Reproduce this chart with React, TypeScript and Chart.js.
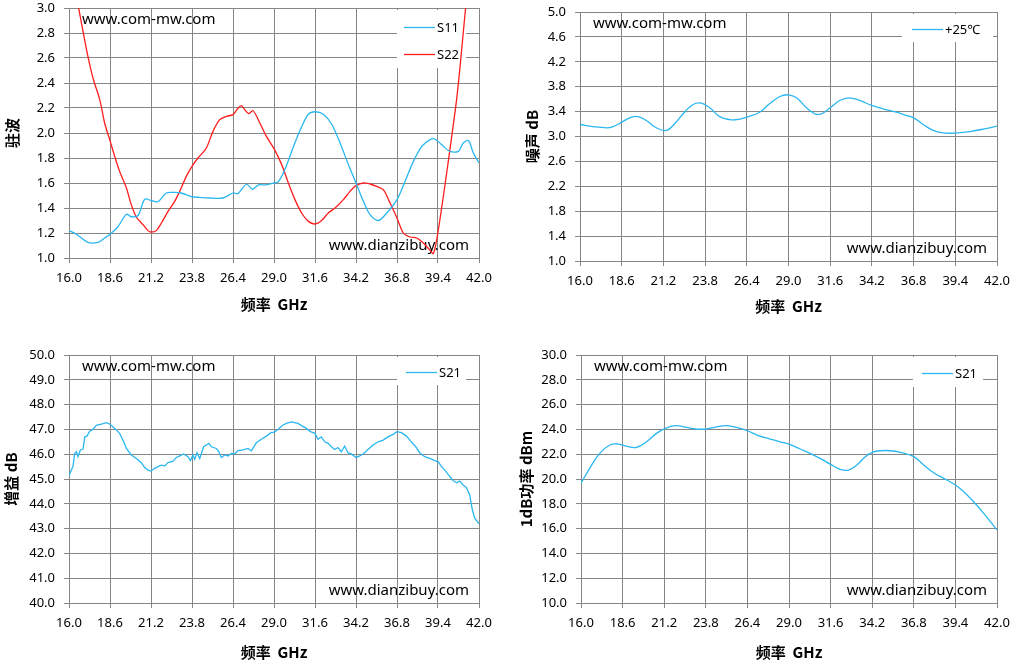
import React, { useEffect, useRef } from "react";
import { Chart, registerables } from "chart.js";

Chart.register(...registerables);

const xTicks = [16.0, 18.6, 21.2, 23.8, 26.4, 29.0, 31.6, 34.2, 36.8, 39.4, 42.0];

// 驻波 S11 / S22
const s11Freq = [16.0, 16.47, 17.2, 17.84, 18.26, 18.6, 19.1, 19.64, 19.95, 20.38, 20.8, 21.2, 21.64, 22.17, 22.7, 23.13, 23.8, 24.29, 24.9, 25.77, 26.4, 26.72, 27.25, 27.63, 28.03, 28.5, 29.0, 29.27, 29.7, 30.23, 30.75, 31.18, 31.6, 32.13, 32.66, 33.19, 33.71, 34.2, 34.67, 35.09, 35.62, 36.15, 36.8, 37.3, 37.84, 38.37, 38.9, 39.2, 39.63, 40.16, 40.69, 41.0, 41.33, 41.64, 42.0];
const s11Vswr = [1.22, 1.19, 1.125, 1.125, 1.16, 1.19, 1.25, 1.35, 1.33, 1.34, 1.47, 1.46, 1.45, 1.52, 1.525, 1.52, 1.49, 1.485, 1.48, 1.48, 1.52, 1.515, 1.59, 1.55, 1.585, 1.585, 1.6, 1.61, 1.71, 1.89, 2.05, 2.15, 2.17, 2.15, 2.07, 1.92, 1.75, 1.6, 1.453, 1.347, 1.3, 1.36, 1.467, 1.61, 1.773, 1.893, 1.947, 1.952, 1.907, 1.853, 1.853, 1.92, 1.94, 1.84, 1.76];
const s22Freq = [16.0, 16.61, 16.89, 17.2, 17.52, 17.95, 18.26, 18.58, 18.9, 19.21, 19.64, 19.95, 20.27, 20.69, 21.01, 21.2, 21.54, 21.86, 22.28, 22.7, 23.02, 23.44, 23.8, 24.18, 24.71, 25.13, 25.56, 25.98, 26.4, 26.68, 26.93, 27.14, 27.4, 27.67, 28.1, 28.52, 29.0, 29.49, 29.91, 30.33, 30.75, 31.18, 31.6, 32.02, 32.44, 32.87, 33.4, 33.82, 34.2, 34.67, 35.09, 35.51, 35.93, 36.36, 36.8, 37.2, 37.63, 38.05, 38.47, 38.9, 39.1, 39.32, 39.63, 39.95, 40.27, 40.58, 40.8, 41.0, 41.15, 41.5];
const s22Vswr = [3.4, 3.0, 2.813, 2.613, 2.44, 2.267, 2.08, 1.947, 1.813, 1.693, 1.56, 1.427, 1.328, 1.267, 1.219, 1.208, 1.219, 1.28, 1.373, 1.453, 1.533, 1.653, 1.733, 1.8, 1.88, 2.013, 2.107, 2.133, 2.147, 2.192, 2.219, 2.187, 2.155, 2.179, 2.08, 1.973, 1.875, 1.747, 1.6, 1.467, 1.36, 1.293, 1.272, 1.3, 1.36, 1.4, 1.467, 1.533, 1.579, 1.6, 1.592, 1.573, 1.547, 1.44, 1.32, 1.2, 1.168, 1.16, 1.12, 1.061, 1.035, 1.147, 1.4, 1.68, 1.973, 2.267, 2.533, 2.8, 3.0, 3.45];

// 噪声
const nfFreq = [16.0, 16.81, 17.64, 18.06, 18.6, 19.1, 19.6, 20.14, 20.76, 21.39, 21.9, 22.43, 23.05, 23.57, 24.09, 24.71, 25.44, 25.96, 26.4, 27.2, 27.82, 28.46, 29.0, 29.5, 30.12, 30.64, 31.05, 31.6, 32.19, 32.8, 33.43, 34.2, 34.89, 35.72, 36.34, 36.8, 37.4, 38.02, 38.64, 39.4, 40.3, 41.14, 42.0];
const nfDb = [3.193, 3.16, 3.14, 3.16, 3.23, 3.3, 3.32, 3.257, 3.14, 3.097, 3.204, 3.365, 3.515, 3.536, 3.461, 3.32, 3.268, 3.279, 3.31, 3.39, 3.525, 3.643, 3.67, 3.622, 3.461, 3.365, 3.365, 3.461, 3.579, 3.622, 3.579, 3.499, 3.445, 3.391, 3.338, 3.3, 3.193, 3.097, 3.059, 3.054, 3.08, 3.118, 3.166];

// 增益
const gainFreq = [16.0, 16.15, 16.25, 16.36, 16.47, 16.57, 16.72, 16.89, 17.0, 17.14, 17.31, 17.52, 17.73, 18.05, 18.37, 18.6, 18.9, 19.21, 19.47, 19.64, 19.95, 20.27, 20.59, 20.8, 21.01, 21.2, 21.43, 21.64, 21.86, 22.07, 22.28, 22.6, 22.81, 23.02, 23.27, 23.55, 23.7, 23.86, 23.97, 24.12, 24.29, 24.54, 24.71, 24.88, 25.03, 25.34, 25.51, 25.66, 25.87, 26.08, 26.3, 26.5, 26.72, 27.04, 27.35, 27.56, 27.88, 28.2, 28.52, 28.83, 29.0, 29.25, 29.53, 29.78, 30.1, 30.31, 30.52, 30.8, 31.05, 31.31, 31.6, 31.79, 32.0, 32.22, 32.43, 32.64, 32.85, 33.06, 33.27, 33.48, 33.69, 33.9, 34.2, 34.44, 34.69, 34.96, 35.28, 35.6, 35.92, 36.23, 36.55, 36.8, 37.08, 37.4, 37.71, 37.99, 38.24, 38.56, 38.88, 39.2, 39.4, 39.63, 39.91, 40.16, 40.36, 40.61, 40.78, 40.99, 41.2, 41.41, 41.58, 41.73, 42.0];
const gainDb = [45.12, 45.36, 45.5, 46.03, 46.1, 45.9, 46.17, 46.21, 46.7, 46.73, 46.93, 47.0, 47.16, 47.21, 47.27, 47.21, 47.04, 46.84, 46.5, 46.23, 45.97, 45.83, 45.66, 45.46, 45.36, 45.32, 45.43, 45.5, 45.56, 45.52, 45.66, 45.72, 45.87, 45.93, 46.01, 45.9, 45.74, 45.97, 45.79, 46.06, 45.83, 46.3, 46.37, 46.44, 46.3, 46.23, 46.1, 45.87, 45.97, 45.93, 46.03, 46.01, 46.14, 46.17, 46.23, 46.14, 46.46, 46.6, 46.73, 46.88, 46.88, 47.0, 47.16, 47.24, 47.3, 47.27, 47.24, 47.13, 47.04, 46.91, 46.84, 46.6, 46.7, 46.5, 46.44, 46.3, 46.19, 46.27, 46.1, 46.33, 46.06, 46.01, 45.87, 45.93, 46.03, 46.19, 46.37, 46.5, 46.57, 46.7, 46.8, 46.91, 46.87, 46.73, 46.5, 46.3, 46.06, 45.9, 45.83, 45.74, 45.7, 45.5, 45.3, 45.09, 44.93, 44.85, 44.92, 44.76, 44.66, 44.36, 43.75, 43.42, 43.19];

// 1dB功率
const p1Freq = [16.0, 16.54, 17.17, 17.8, 18.32, 18.81, 19.47, 20.1, 20.72, 21.35, 21.97, 22.6, 23.22, 23.8, 24.48, 25.1, 25.73, 26.4, 27.09, 27.82, 28.44, 29.0, 29.7, 30.32, 31.05, 31.6, 32.2, 32.72, 33.24, 33.77, 34.2, 34.71, 35.34, 35.96, 36.8, 37.42, 38.04, 38.67, 39.4, 39.92, 40.54, 41.17, 42.0];
const p1Dbm = [19.65, 20.86, 22.07, 22.74, 22.82, 22.66, 22.55, 23.0, 23.68, 24.13, 24.3, 24.16, 24.03, 24.03, 24.21, 24.3, 24.16, 23.89, 23.49, 23.22, 23.0, 22.82, 22.42, 22.07, 21.58, 21.18, 20.78, 20.72, 21.13, 21.8, 22.15, 22.28, 22.28, 22.15, 21.8, 21.13, 20.51, 20.05, 19.52, 18.98, 18.17, 17.23, 15.89];

const GRID = "#868686";
const BLUE = "#2ab7ef";
const RED = "#ff1c1c";

const pts = (xs: number[], ys: number[]) => xs.map((x, i) => ({ x, y: ys[i] }));

const decorPlugin = {
  id: "decor",
  beforeDatasetsDraw(chart: any, _a: any, o: any) {
    const { ctx, chartArea: a } = chart;
    ctx.save();
    ctx.fillStyle = "#fff";
    ctx.fillRect(a.right - o.box[0] - o.box[1], a.top + 2, o.box[1], o.box[2]);
    ctx.fillStyle = "#000";
    ctx.font = "15px 'Noto Sans'";
    ctx.textBaseline = "middle";
    ctx.textAlign = "left";
    ctx.fillText("www.com-mw.com", a.left + 13, a.top + 12);
    ctx.textAlign = "right";
    ctx.fillText("www.dianzibuy.com", a.right - 10, a.bottom - 12);
    ctx.restore();
  },
  afterDatasetsDraw(chart: any, _a: any, o: any) {
    const { ctx, chartArea: a } = chart;
    const x0 = a.right - o.box[0] - o.box[1] + o.box[3];
    ctx.save();
    ctx.font = "13px 'Noto Sans', 'Noto Sans CJK SC'";
    ctx.textBaseline = "middle";
    ctx.textAlign = "left";
    chart.data.datasets.forEach((ds: any, i: number) => {
      const y = a.top + o.box[4] + i * 27;
      ctx.strokeStyle = ds.borderColor;
      ctx.lineWidth = 1.3;
      ctx.beginPath();
      ctx.moveTo(x0, y + 0.5);
      ctx.lineTo(x0 + 31, y + 0.5);
      ctx.stroke();
      ctx.fillStyle = "#000";
      ctx.fillText(ds.label, x0 + 33, y + 1);
    });
    ctx.restore();
  },
};

type Panel = {
  left: number;
  top: number;
  height: number;
  yW: number;
  xH: number;
  pad: { top: number; right: number; bottom: number };
  yMin: number;
  yMax: number;
  yStep: number;
  yTitle: string;
  yTitlePad: number;
  box: number[]; // right offset, width, height, line inset, first row
  tension: number;
  datasets: { label: string; color: string; data: { x: number; y: number }[] }[];
};

const panels: Panel[] = [
  {
    left: 0, top: 0, height: 332, yW: 69, xH: 55,
    pad: { top: 8, right: 28, bottom: 19 },
    yMin: 1, yMax: 3, yStep: 0.2, yTitle: "驻波", yTitlePad: 3,
    box: [13, 69, 58, 7, 19], tension: 0.3,
    datasets: [
      { label: "S11", color: BLUE, data: pts(s11Freq, s11Vswr) },
      { label: "S22", color: RED, data: pts(s22Freq, s22Vswr) },
    ],
  },
  {
    left: 507, top: 0, height: 332, yW: 73, xH: 54,
    pad: { top: 12, right: 17, bottom: 17 },
    yMin: 1, yMax: 5, yStep: 0.4, yTitle: "噪声 dB", yTitlePad: 16,
    box: [4, 91, 28, 10, 17], tension: 0.4,
    datasets: [{ label: "+25℃", color: BLUE, data: pts(nfFreq, nfDb) }],
  },
  {
    left: 0, top: 332, height: 333, yW: 69, xH: 58,
    pad: { top: 23, right: 28, bottom: 4 },
    yMin: 40, yMax: 50, yStep: 1, yTitle: "增益 dB", yTitlePad: 2,
    box: [13, 69, 28, 9, 17], tension: 0,
    datasets: [{ label: "S21", color: BLUE, data: pts(gainFreq, gainDb) }],
  },
  {
    left: 507, top: 332, height: 333, yW: 74, xH: 58,
    pad: { top: 23, right: 17, bottom: 4 },
    yMin: 10, yMax: 30, yStep: 2, yTitle: "1dB功率 dBm", yTitlePad: 10,
    box: [14, 70, 30, 9, 18], tension: 0.4,
    datasets: [{ label: "S21", color: BLUE, data: pts(p1Freq, p1Dbm) }],
  },
];

const tickFont = { family: "'Noto Sans', 'DejaVu Sans'", size: 13 };
const titleFont = { family: "'Noto Sans CJK SC', 'Noto Sans'", size: 15, weight: "bold" as const };

const ChartPanel: React.FC<{ p: Panel }> = ({ p }) => {
  const ref = useRef<HTMLCanvasElement | null>(null);

  useEffect(() => {
    if (!ref.current) return;
    const chart = new Chart(ref.current, {
      type: "line",
      data: {
        datasets: p.datasets.map((d) => ({
          label: d.label,
          data: d.data,
          borderColor: d.color,
          backgroundColor: d.color,
          borderWidth: 1.3,
          pointRadius: 0,
          tension: p.tension,
          fill: false,
        })),
      },
      options: {
        animation: false,
        responsive: false,
        devicePixelRatio: 1,
        layout: { padding: { left: 0, ...p.pad } },
        plugins: {
          legend: { display: false },
          tooltip: { enabled: false },
          decor: { box: p.box },
        } as any,
        scales: {
          x: {
            type: "linear",
            min: 16,
            max: 42,
            afterBuildTicks: (s: any) => {
              s.ticks = xTicks.map((v) => ({ value: v }));
            },
            afterFit: (s: any) => {
              s.height = p.xH;
              s.paddingLeft = 0;
              s.paddingRight = 0;
            },
            grid: { color: GRID, lineWidth: 1, tickLength: 5 },
            border: { color: GRID },
            ticks: {
              color: "#000",
              font: tickFont,
              padding: 7,
              maxRotation: 0,
              autoSkip: false,
              callback: (v: any) => Number(v).toFixed(1),
            },
            title: { display: true, text: "频率  GHz", color: "#000", font: titleFont, padding: 0 },
          },
          y: {
            min: p.yMin,
            max: p.yMax,
            afterFit: (s: any) => {
              s.width = p.yW;
              s.paddingTop = 0;
              s.paddingBottom = 0;
            },
            grid: { color: GRID, lineWidth: 1, tickLength: 5 },
            border: { color: GRID },
            ticks: {
              stepSize: p.yStep,
              color: "#000",
              font: tickFont,
              padding: 9,
              callback: (v: any) => Number(v).toFixed(1),
            },
            title: {
              display: true,
              text: p.yTitle,
              color: "#000",
              font: titleFont,
              padding: { top: p.yTitlePad, bottom: 0 },
            },
          },
        },
      },
      plugins: [decorPlugin as any],
    });
    return () => chart.destroy();
  }, [p]);

  return (
    <canvas
      ref={ref}
      width={507}
      height={p.height}
      style={{ position: "absolute", left: p.left, top: p.top, width: 507, height: p.height }}
    />
  );
};

export default function App() {
  return (
    <div style={{ position: "absolute", left: 0, top: 0, width: 1014, height: 665, background: "#fff" }}>
      {panels.map((p, i) => (
        <ChartPanel key={i} p={p} />
      ))}
    </div>
  );
}
